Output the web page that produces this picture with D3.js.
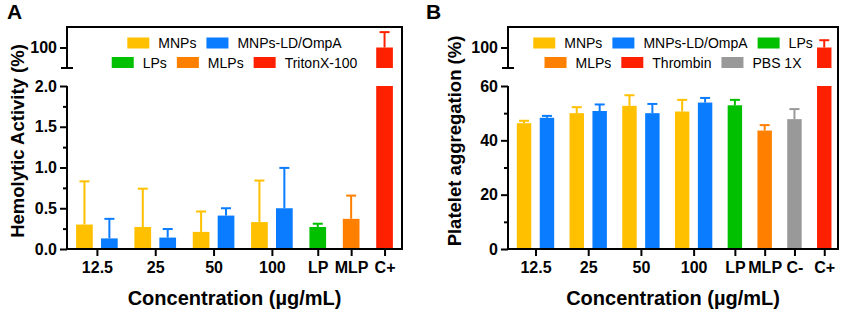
<!DOCTYPE html>
<html>
<head>
<meta charset="utf-8">
<script src="https://cdn.jsdelivr.net/npm/d3@7"></script>
<style>
  body { margin: 0; background: #fff; }
  svg { display: block; font-family: "Liberation Sans", Arial, sans-serif; }
  .tick text { font-weight: bold; font-size: 16px; fill: #000; }
  .axis-title { font-weight: bold; fill: #000; }
  .legend-text { font-size: 14px; fill: #000; }
</style>
</head>
<body>
<svg id="chart" width="844" height="310"></svg>
<script>
// Panel A - hemolysis
const groupsA = ['12.5', '25', '50', '100', 'LP', 'MLP', 'C+'];
const mnpsA = [0.30, 0.27, 0.21, 0.33];
const mnpsSdA = [0.53, 0.47, 0.25, 0.51];
const ompaA = [0.13, 0.14, 0.41, 0.50];
const ompaSdA = [0.24, 0.105, 0.09, 0.495];
const singlesA = [0.27, 0.37, 100];        // LP, MLP, C+
const singlesSdA = [0.04, 0.285, 15];
const legendA = [['MNPs', 'MNPs-LD/OmpA'], ['LPs', 'MLPs', 'TritonX-100']];

// Panel B - platelet aggregation
const groupsB = ['12.5', '25', '50', '100', 'LP', 'MLP', 'C-', 'C+'];
const mnpsB = [46.3, 50.0, 52.7, 50.6];
const mnpsSdB = [0.9, 2.2, 3.9, 4.3];
const ompaB = [48.3, 50.8, 50.0, 53.9];
const ompaSdB = [0.7, 2.4, 3.4, 1.7];
const singlesB = [52.9, 43.6, 47.8, 100];  // LP, MLP, C-, C+
const singlesSdB = [2.0, 2.0, 3.7, 7.1];
const legendB = [['MNPs', 'MNPs-LD/OmpA', 'LPs'], ['MLPs', 'Thrombin', 'PBS 1X']];

const colors = {
  'MNPs': '#ffc000', 'MNPs-LD/OmpA': '#0a7cff', 'LPs': '#00c000',
  'MLPs': '#ff7f00', 'TritonX-100': '#ff2000', 'Thrombin': '#ff2000', 'PBS 1X': '#999999'
};

const svg = d3.select('#chart');

// build bars for one panel: 4 concentration groups with 2 bars, then single bars
function buildBars(groups, mnps, mnpsSd, ompa, ompaSd, singles, singlesSd, singleSeries, gap) {
  const bars = [];
  const centers = [];
  let u = 0;
  groups.forEach((g, gi) => {
    if (gi > 0) u += gap;
    if (gi < mnps.length) {
      bars.push({ u: u, v: mnps[gi], sd: mnpsSd[gi], series: 'MNPs' });
      bars.push({ u: u + 1, v: ompa[gi], sd: ompaSd[gi], series: 'MNPs-LD/OmpA' });
      centers.push({ label: g, u: u + 0.5 });
      u += 1;
    } else {
      const k = gi - mnps.length;
      bars.push({ u: u, v: singles[k], sd: singlesSd[k], series: singleSeries[k] });
      centers.push({ label: g, u: u });
    }
  });
  return { bars, centers, last: u };
}

function drawPanel(p) {
  const g = svg.append('g');
  const { bars, centers, last } = p.data;

  const x = d3.scaleLinear()
    .domain([-p.padL, last + p.padR])
    .range([p.left, p.right]);

  const yLow = d3.scaleLinear().domain(p.lowDomain).range([p.bottom, p.lowTop]);
  const yUp = d3.scaleLinear().domain(p.upDomain).range([p.upBottom, p.top]);
  const half = p.barW / 2;

  // lower segment bars
  g.selectAll('.bar-low')
    .data(bars)
    .enter()
    .append('rect')
    .attr('x', d => x(d.u - half))
    .attr('width', d => x(d.u + half) - x(d.u - half))
    .attr('y', d => yLow(Math.min(d.v, p.lowDomain[1])))
    .attr('height', d => yLow(0) - yLow(Math.min(d.v, p.lowDomain[1])))
    .attr('fill', d => colors[d.series]);

  // upper segment bars (only those above break)
  const tall = bars.filter(d => d.v > p.lowDomain[1]);
  g.selectAll('.bar-up')
    .data(tall)
    .enter()
    .append('rect')
    .attr('x', d => x(d.u - half))
    .attr('width', d => x(d.u + half) - x(d.u - half))
    .attr('y', d => yUp(d.v))
    .attr('height', d => yUp(p.upDomain[0]) - yUp(d.v))
    .attr('fill', d => colors[d.series]);

  // error bars (upper half only)
  const yOf = d => d.v > p.lowDomain[1] ? yUp : yLow;
  const err = g.selectAll('.err')
    .data(bars)
    .enter()
    .append('g')
    .attr('stroke', d => colors[d.series])
    .attr('stroke-width', 2);
  err.append('line')
    .attr('x1', d => x(d.u)).attr('x2', d => x(d.u))
    .attr('y1', d => yOf(d)(d.v)).attr('y2', d => yOf(d)(d.v + d.sd));
  err.append('line')
    .attr('x1', d => x(d.u) - 5).attr('x2', d => x(d.u) + 5)
    .attr('y1', d => yOf(d)(d.v + d.sd)).attr('y2', d => yOf(d)(d.v + d.sd));

  // lower y axis
  g.append('g')
    .attr('transform', `translate(${p.left},0)`)
    .call(d3.axisLeft(yLow).tickValues(p.lowTicks).tickFormat(p.fmt).tickSize(7).tickPadding(3))
    .call(a => a.select('.domain').remove())
    .call(a => a.selectAll('line').attr('stroke-width', 2));
  g.append('g')
    .attr('transform', `translate(${p.left},0)`)
    .call(d3.axisLeft(yLow).tickValues(p.minorTicks).tickFormat('').tickSize(4))
    .call(a => a.select('.domain').remove())
    .call(a => a.selectAll('line').attr('stroke-width', 2));

  // upper y axis
  g.append('g')
    .attr('transform', `translate(${p.left},0)`)
    .call(d3.axisLeft(yUp).tickValues(p.upTicks).tickFormat(d3.format('d')).tickSize(7).tickPadding(3))
    .call(a => a.select('.domain').remove())
    .call(a => a.selectAll('line').attr('stroke-width', 2));

  // x axis
  g.append('g')
    .attr('transform', `translate(0,${p.bottom})`)
    .call(d3.axisBottom(x).tickValues(centers.map(c => c.u))
      .tickFormat((d, i) => centers[i].label).tickSize(7).tickPadding(6))
    .call(a => a.select('.domain').remove())
    .call(a => a.selectAll('line').attr('stroke-width', 2));

  // axis lines and frame
  const frame = g.append('g').attr('stroke', '#000').attr('stroke-width', 2).attr('fill', 'none');
  frame.append('path')
    .attr('d', `M${p.left},${p.lowTop}V${p.bottom}H${p.right}V${p.top}H${p.left}V${p.upBottom}`);
  frame.append('line')
    .attr('x1', p.left - 6).attr('x2', p.left + 6)
    .attr('y1', p.upBottom).attr('y2', p.upBottom);

  // titles
  g.append('text')
    .attr('class', 'axis-title')
    .attr('x', (p.left + p.right) / 2)
    .attr('y', 305)
    .attr('text-anchor', 'middle')
    .style('font-size', '20px')
    .text('Concentration (µg/mL)');

  g.append('text')
    .attr('class', 'axis-title')
    .attr('transform', `translate(${p.yTitleX},${(p.top + p.bottom) / 2 + 3}) rotate(-90)`)
    .attr('text-anchor', 'middle')
    .style('font-size', '18.5px')
    .text(p.yTitle);

  g.append('text')
    .attr('class', 'axis-title')
    .attr('x', p.panelX)
    .attr('y', 19)
    .style('font-size', '21px')
    .text(p.panelLabel);

  // legend, rows centred over plot
  const cx = (p.left + p.right) / 2;
  p.legend.forEach((row, ri) => {
    const rowG = g.append('g');
    let pos = 0;
    row.forEach(name => {
      rowG.append('rect')
        .attr('x', pos).attr('y', -5.5)
        .attr('width', 22).attr('height', 11)
        .attr('fill', colors[name]);
      const t = rowG.append('text')
        .attr('class', 'legend-text')
        .attr('x', pos + 31).attr('y', 5)
        .text(name);
      pos += 31 + t.node().getComputedTextLength() + 10;
    });
    pos -= 10;
    rowG.attr('transform', `translate(${cx - pos / 2},${43 + ri * 19.5})`);
  });
}

drawPanel({
  data: buildBars(groupsA, mnpsA, mnpsSdA, ompaA, ompaSdA, singlesA, singlesSdA,
    ['LPs', 'MLPs', 'TritonX-100'], 1.34),
  left: 67, right: 402, top: 27, bottom: 249, lowTop: 86, upBottom: 68,
  padL: 0.7, padR: 0.7, barW: 0.67,
  lowDomain: [0, 2], upDomain: [80, 120],
  lowTicks: [0, 0.5, 1, 1.5, 2], minorTicks: [0.25, 0.75, 1.25, 1.75], upTicks: [100],
  fmt: d3.format('.1f'),
  yTitle: 'Hemolytic Activity (%)', yTitleX: 24,
  panelLabel: 'A', panelX: 7,
  legend: legendA
});

drawPanel({
  data: buildBars(groupsB, mnpsB, mnpsSdB, ompaB, ompaSdB, singlesB, singlesSdB,
    ['LPs', 'MLPs', 'PBS 1X', 'Thrombin'], 1.30),
  left: 508, right: 838, top: 27, bottom: 249, lowTop: 86, upBottom: 68,
  padL: 0.7, padR: 0.6, barW: 0.63,
  lowDomain: [0, 60], upDomain: [80, 120],
  lowTicks: [0, 20, 40, 60], minorTicks: [10, 30, 50], upTicks: [100],
  fmt: d3.format('d'),
  yTitle: 'Platelet aggregation (%)', yTitleX: 461,
  panelLabel: 'B', panelX: 426,
  legend: legendB
});
</script>
</body>
</html>
